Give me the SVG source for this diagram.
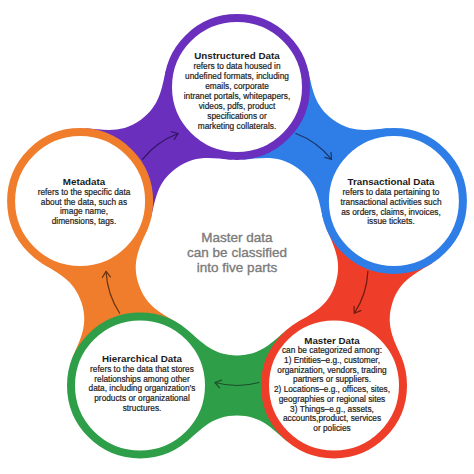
<svg xmlns="http://www.w3.org/2000/svg" width="474" height="474" viewBox="0 0 474 474">
<style>
.ring{fill:#fff;stroke-width:8}
.t{font-family:"Liberation Sans",Arial,sans-serif;font-weight:bold;font-size:9.8px;fill:#1a1a1a;text-anchor:middle}
.b{font-family:"Liberation Sans",Arial,sans-serif;font-size:8.3px;fill:#222;stroke:#222;stroke-width:0.2;text-anchor:middle}
.c{font-family:"Liberation Sans",Arial,sans-serif;font-size:13.5px;fill:#7b7b7b;stroke:#7b7b7b;stroke-width:0.35;text-anchor:middle}
.arr{fill:none;stroke-width:1.2;stroke-linecap:round;stroke-linejoin:round}
</style>
<defs>
<path id="bridge" d="M -50.1 -55.9 C -34.8 -43 -24 -30 0 -30 C 24 -30 34.8 -43 50.1 -55.9 L 50.1 55.9 C 34.8 43 24 30 0 30 C -24 30 -34.8 43 -50.1 55.9 Z"/>
<g id="arrow"><path d="M -22 3 Q 0 -3 22 3"/><path d="M 15.4 5.4 L 22 3 L 17.5 -2.4"/></g>
</defs>
<rect width="474" height="474" fill="#fff"/>
<g id="connectors">
<g transform="translate(237 252) rotate(36) translate(0 -133.5)"><use href="#bridge" fill="#2f7de6"/><use href="#arrow" class="arr" stroke="#1b3566"/></g>
<g transform="translate(237 252) rotate(108) translate(0 -133.5)"><use href="#bridge" fill="#ee3d28"/><use href="#arrow" class="arr" stroke="#6e1c10"/></g>
<g transform="translate(237 252) rotate(180) translate(0 -133.5)"><use href="#bridge" fill="#2f9e49"/><use href="#arrow" class="arr" stroke="#1d4f2a"/></g>
<g transform="translate(237 252) rotate(252) translate(0 -133.5)"><use href="#bridge" fill="#f07d2c"/><use href="#arrow" class="arr" stroke="#6a3512"/></g>
<g transform="translate(237 252) rotate(324) translate(0 -133.5)"><use href="#bridge" fill="#6a2fbd"/><use href="#arrow" class="arr" stroke="#2f1560"/></g>
</g>
<g id="center"><text class="c" x="237" y="241.5">Master data</text><text class="c" x="237" y="256.5">can be classified</text><text class="c" x="237" y="271.5">into five parts</text></g>
<g id="unstructured">
<circle class="ring" cx="237" cy="87" r="69" stroke="#6a2fbd"/>
<text class="t" x="237" y="59">Unstructured Data</text>
<text class="b" x="237" y="69">refers to data housed in</text>
<text class="b" x="237" y="79">undefined formats, including</text>
<text class="b" x="237" y="89">emails, corporate</text>
<text class="b" x="237" y="99">intranet portals, whitepapers,</text>
<text class="b" x="237" y="109">videos, pdfs, product</text>
<text class="b" x="237" y="119">specifications or</text>
<text class="b" x="237" y="129">marketing collaterals.</text>
</g>
<g id="transactional">
<circle class="ring" cx="393.9" cy="201" r="69" stroke="#2f7de6"/>
<text class="t" x="391" y="185">Transactional Data</text>
<text class="b" x="391" y="195.3">refers to data pertaining to</text>
<text class="b" x="391" y="205">transactional activities such</text>
<text class="b" x="391" y="214.7">as orders, claims, invoices,</text>
<text class="b" x="391" y="224.4">issue tickets.</text>
</g>
<g id="master">
<circle class="ring" cx="334" cy="385.5" r="69" stroke="#ee3d28"/>
<text class="t" x="332" y="343.5">Master Data</text>
<text class="b" x="332" y="353.3">can be categorized among:</text>
<text class="b" x="332" y="363">1) Entities–e.g., customer,</text>
<text class="b" x="332" y="372.7">organization, vendors, trading</text>
<text class="b" x="332" y="382.4">partners or suppliers.</text>
<text class="b" x="332" y="392.1">2) Locations–e.g., offices, sites,</text>
<text class="b" x="332" y="401.8">geographies or regional sites</text>
<text class="b" x="332" y="411.5">3) Things–e.g., assets,</text>
<text class="b" x="332" y="421.2">accounts,product, services</text>
<text class="b" x="332" y="430.9">or policies</text>
</g>
<g id="hierarchical">
<circle class="ring" cx="140" cy="385.5" r="69" stroke="#2f9e49"/>
<text class="t" x="142" y="361.7">Hierarchical Data</text>
<text class="b" x="142" y="372">refers to the data that stores</text>
<text class="b" x="142" y="381.7">relationships among other</text>
<text class="b" x="142" y="391.4">data, including organization’s</text>
<text class="b" x="142" y="401.1">products or organizational</text>
<text class="b" x="142" y="410.8">structures.</text>
</g>
<g id="metadata">
<circle class="ring" cx="80.1" cy="201" r="69" stroke="#f07d2c"/>
<text class="t" x="84" y="185">Metadata</text>
<text class="b" x="84" y="195">refers to the specific data</text>
<text class="b" x="84" y="204.6">about the data, such as</text>
<text class="b" x="84" y="214.2">image name,</text>
<text class="b" x="84" y="223.8">dimensions, tags.</text>
</g>
</svg>
